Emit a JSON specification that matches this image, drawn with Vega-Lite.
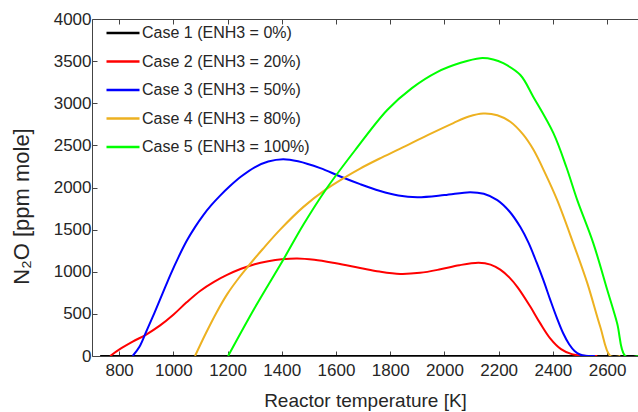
{
  "$schema": "https://vega.github.io/schema/vega-lite/v6.json",
  "width": 546,
  "height": 337,
  "autosize": {"type": "none"},
  "padding": {"left": 92, "top": 19, "right": 0, "bottom": 56},
  "background": "white",
  "config": {
    "view": {"stroke": null},
    "font": "Liberation Sans",
    "axis": {"grid": false, "domainColor": "#444", "tickColor": "#444", "labelColor": "#262626", "titleColor": "#262626", "labelFont": "Liberation Sans", "titleFont": "Liberation Sans", "titleFontWeight": "normal", "labelFontSize": 17, "titleFontSize": 19, "domainWidth": 1, "tickWidth": 1},
    "legend": {"labelFont": "Liberation Sans", "labelFontSize": 16, "labelColor": "#262626"}
  },
  "data": {"values": [
    {"c": "Case 1 (ENH3 = 0%)", "T": 730, "v": 0},
    {"c": "Case 1 (ENH3 = 0%)", "T": 2714, "v": 0},

    {"c": "Case 2 (ENH3 = 20%)", "T": 767, "v": 0},
    {"c": "Case 2 (ENH3 = 20%)", "T": 800, "v": 75},
    {"c": "Case 2 (ENH3 = 20%)", "T": 850, "v": 170},
    {"c": "Case 2 (ENH3 = 20%)", "T": 900, "v": 255},
    {"c": "Case 2 (ENH3 = 20%)", "T": 950, "v": 360},
    {"c": "Case 2 (ENH3 = 20%)", "T": 1000, "v": 490},
    {"c": "Case 2 (ENH3 = 20%)", "T": 1050, "v": 640},
    {"c": "Case 2 (ENH3 = 20%)", "T": 1100, "v": 775},
    {"c": "Case 2 (ENH3 = 20%)", "T": 1150, "v": 880},
    {"c": "Case 2 (ENH3 = 20%)", "T": 1200, "v": 965},
    {"c": "Case 2 (ENH3 = 20%)", "T": 1250, "v": 1035},
    {"c": "Case 2 (ENH3 = 20%)", "T": 1300, "v": 1090},
    {"c": "Case 2 (ENH3 = 20%)", "T": 1350, "v": 1125},
    {"c": "Case 2 (ENH3 = 20%)", "T": 1400, "v": 1148},
    {"c": "Case 2 (ENH3 = 20%)", "T": 1457, "v": 1158},
    {"c": "Case 2 (ENH3 = 20%)", "T": 1520, "v": 1142},
    {"c": "Case 2 (ENH3 = 20%)", "T": 1600, "v": 1100},
    {"c": "Case 2 (ENH3 = 20%)", "T": 1689, "v": 1045},
    {"c": "Case 2 (ENH3 = 20%)", "T": 1760, "v": 1002},
    {"c": "Case 2 (ENH3 = 20%)", "T": 1837, "v": 974},
    {"c": "Case 2 (ENH3 = 20%)", "T": 1910, "v": 987},
    {"c": "Case 2 (ENH3 = 20%)", "T": 1985, "v": 1029},
    {"c": "Case 2 (ENH3 = 20%)", "T": 2055, "v": 1078},
    {"c": "Case 2 (ENH3 = 20%)", "T": 2126, "v": 1106},
    {"c": "Case 2 (ENH3 = 20%)", "T": 2170, "v": 1085},
    {"c": "Case 2 (ENH3 = 20%)", "T": 2206, "v": 1025},
    {"c": "Case 2 (ENH3 = 20%)", "T": 2240, "v": 930},
    {"c": "Case 2 (ENH3 = 20%)", "T": 2270, "v": 815},
    {"c": "Case 2 (ENH3 = 20%)", "T": 2316, "v": 590},
    {"c": "Case 2 (ENH3 = 20%)", "T": 2353, "v": 390},
    {"c": "Case 2 (ENH3 = 20%)", "T": 2390, "v": 210},
    {"c": "Case 2 (ENH3 = 20%)", "T": 2430, "v": 82},
    {"c": "Case 2 (ENH3 = 20%)", "T": 2470, "v": 22},
    {"c": "Case 2 (ENH3 = 20%)", "T": 2510, "v": 3},
    {"c": "Case 2 (ENH3 = 20%)", "T": 2564, "v": 0},

    {"c": "Case 3 (ENH3 = 50%)", "T": 850, "v": 0},
    {"c": "Case 3 (ENH3 = 50%)", "T": 875, "v": 110},
    {"c": "Case 3 (ENH3 = 50%)", "T": 900, "v": 290},
    {"c": "Case 3 (ENH3 = 50%)", "T": 930, "v": 510},
    {"c": "Case 3 (ENH3 = 50%)", "T": 960, "v": 740},
    {"c": "Case 3 (ENH3 = 50%)", "T": 990, "v": 970},
    {"c": "Case 3 (ENH3 = 50%)", "T": 1020, "v": 1180},
    {"c": "Case 3 (ENH3 = 50%)", "T": 1050, "v": 1370},
    {"c": "Case 3 (ENH3 = 50%)", "T": 1080, "v": 1530},
    {"c": "Case 3 (ENH3 = 50%)", "T": 1110, "v": 1670},
    {"c": "Case 3 (ENH3 = 50%)", "T": 1140, "v": 1790},
    {"c": "Case 3 (ENH3 = 50%)", "T": 1170, "v": 1895},
    {"c": "Case 3 (ENH3 = 50%)", "T": 1210, "v": 2020},
    {"c": "Case 3 (ENH3 = 50%)", "T": 1250, "v": 2130},
    {"c": "Case 3 (ENH3 = 50%)", "T": 1300, "v": 2240},
    {"c": "Case 3 (ENH3 = 50%)", "T": 1350, "v": 2308},
    {"c": "Case 3 (ENH3 = 50%)", "T": 1405, "v": 2336},
    {"c": "Case 3 (ENH3 = 50%)", "T": 1460, "v": 2312},
    {"c": "Case 3 (ENH3 = 50%)", "T": 1542, "v": 2230},
    {"c": "Case 3 (ENH3 = 50%)", "T": 1616, "v": 2130},
    {"c": "Case 3 (ENH3 = 50%)", "T": 1689, "v": 2040},
    {"c": "Case 3 (ENH3 = 50%)", "T": 1760, "v": 1962},
    {"c": "Case 3 (ENH3 = 50%)", "T": 1830, "v": 1905},
    {"c": "Case 3 (ENH3 = 50%)", "T": 1900, "v": 1885},
    {"c": "Case 3 (ENH3 = 50%)", "T": 2000, "v": 1910},
    {"c": "Case 3 (ENH3 = 50%)", "T": 2095, "v": 1945},
    {"c": "Case 3 (ENH3 = 50%)", "T": 2145, "v": 1925},
    {"c": "Case 3 (ENH3 = 50%)", "T": 2195, "v": 1850},
    {"c": "Case 3 (ENH3 = 50%)", "T": 2240, "v": 1715},
    {"c": "Case 3 (ENH3 = 50%)", "T": 2280, "v": 1530},
    {"c": "Case 3 (ENH3 = 50%)", "T": 2310, "v": 1345},
    {"c": "Case 3 (ENH3 = 50%)", "T": 2340, "v": 1110},
    {"c": "Case 3 (ENH3 = 50%)", "T": 2365, "v": 900},
    {"c": "Case 3 (ENH3 = 50%)", "T": 2390, "v": 670},
    {"c": "Case 3 (ENH3 = 50%)", "T": 2415, "v": 450},
    {"c": "Case 3 (ENH3 = 50%)", "T": 2438, "v": 270},
    {"c": "Case 3 (ENH3 = 50%)", "T": 2460, "v": 140},
    {"c": "Case 3 (ENH3 = 50%)", "T": 2480, "v": 60},
    {"c": "Case 3 (ENH3 = 50%)", "T": 2500, "v": 18},
    {"c": "Case 3 (ENH3 = 50%)", "T": 2520, "v": 3},
    {"c": "Case 3 (ENH3 = 50%)", "T": 2555, "v": 0},

    {"c": "Case 4 (ENH3 = 80%)", "T": 1080, "v": 0},
    {"c": "Case 4 (ENH3 = 80%)", "T": 1120, "v": 270},
    {"c": "Case 4 (ENH3 = 80%)", "T": 1160, "v": 520},
    {"c": "Case 4 (ENH3 = 80%)", "T": 1200, "v": 740},
    {"c": "Case 4 (ENH3 = 80%)", "T": 1240, "v": 920},
    {"c": "Case 4 (ENH3 = 80%)", "T": 1280, "v": 1080},
    {"c": "Case 4 (ENH3 = 80%)", "T": 1330, "v": 1270},
    {"c": "Case 4 (ENH3 = 80%)", "T": 1394, "v": 1500},
    {"c": "Case 4 (ENH3 = 80%)", "T": 1480, "v": 1770},
    {"c": "Case 4 (ENH3 = 80%)", "T": 1564, "v": 1980},
    {"c": "Case 4 (ENH3 = 80%)", "T": 1630, "v": 2115},
    {"c": "Case 4 (ENH3 = 80%)", "T": 1689, "v": 2225},
    {"c": "Case 4 (ENH3 = 80%)", "T": 1770, "v": 2358},
    {"c": "Case 4 (ENH3 = 80%)", "T": 1848, "v": 2480},
    {"c": "Case 4 (ENH3 = 80%)", "T": 1940, "v": 2625},
    {"c": "Case 4 (ENH3 = 80%)", "T": 2033, "v": 2765},
    {"c": "Case 4 (ENH3 = 80%)", "T": 2090, "v": 2842},
    {"c": "Case 4 (ENH3 = 80%)", "T": 2143, "v": 2878},
    {"c": "Case 4 (ENH3 = 80%)", "T": 2195, "v": 2858},
    {"c": "Case 4 (ENH3 = 80%)", "T": 2243, "v": 2780},
    {"c": "Case 4 (ENH3 = 80%)", "T": 2290, "v": 2630},
    {"c": "Case 4 (ENH3 = 80%)", "T": 2328, "v": 2450},
    {"c": "Case 4 (ENH3 = 80%)", "T": 2370, "v": 2180},
    {"c": "Case 4 (ENH3 = 80%)", "T": 2416, "v": 1850},
    {"c": "Case 4 (ENH3 = 80%)", "T": 2475, "v": 1340},
    {"c": "Case 4 (ENH3 = 80%)", "T": 2527, "v": 865},
    {"c": "Case 4 (ENH3 = 80%)", "T": 2575, "v": 345},
    {"c": "Case 4 (ENH3 = 80%)", "T": 2612, "v": 0},
    {"c": "Case 4 (ENH3 = 80%)", "T": 2649, "v": 0},

    {"c": "Case 5 (ENH3 = 100%)", "T": 1202, "v": 0},
    {"c": "Case 5 (ENH3 = 100%)", "T": 1300, "v": 570},
    {"c": "Case 5 (ENH3 = 100%)", "T": 1405, "v": 1140},
    {"c": "Case 5 (ENH3 = 100%)", "T": 1480, "v": 1560},
    {"c": "Case 5 (ENH3 = 100%)", "T": 1564, "v": 1982},
    {"c": "Case 5 (ENH3 = 100%)", "T": 1671, "v": 2445},
    {"c": "Case 5 (ENH3 = 100%)", "T": 1789, "v": 2920},
    {"c": "Case 5 (ENH3 = 100%)", "T": 1880, "v": 3180},
    {"c": "Case 5 (ENH3 = 100%)", "T": 1973, "v": 3370},
    {"c": "Case 5 (ENH3 = 100%)", "T": 2060, "v": 3480},
    {"c": "Case 5 (ENH3 = 100%)", "T": 2132, "v": 3535},
    {"c": "Case 5 (ENH3 = 100%)", "T": 2180, "v": 3520},
    {"c": "Case 5 (ENH3 = 100%)", "T": 2217, "v": 3475},
    {"c": "Case 5 (ENH3 = 100%)", "T": 2280, "v": 3335},
    {"c": "Case 5 (ENH3 = 100%)", "T": 2328, "v": 3075},
    {"c": "Case 5 (ENH3 = 100%)", "T": 2402, "v": 2645},
    {"c": "Case 5 (ENH3 = 100%)", "T": 2450, "v": 2240},
    {"c": "Case 5 (ENH3 = 100%)", "T": 2490, "v": 1850},
    {"c": "Case 5 (ENH3 = 100%)", "T": 2549, "v": 1340},
    {"c": "Case 5 (ENH3 = 100%)", "T": 2601, "v": 780},
    {"c": "Case 5 (ENH3 = 100%)", "T": 2637, "v": 390},
    {"c": "Case 5 (ENH3 = 100%)", "T": 2667, "v": 0},
    {"c": "Case 5 (ENH3 = 100%)", "T": 2714, "v": 0}
  ]},
  "layer": [
    {
      "mark": {"type": "line", "strokeWidth": 2, "interpolate": "catmull-rom", "clip": true},
      "encoding": {
        "x": {"field": "T", "type": "quantitative", "scale": {"domain": [700, 2714], "nice": false, "zero": false},
              "axis": {"orient": "bottom", "values": [800, 1000, 1200, 1400, 1600, 1800, 2000, 2200, 2400, 2600], "format": "d", "title": "Reactor temperature [K]", "tickSize": -5, "labelPadding": 11, "titleY": 44, "titleBaseline": "middle"}},
        "y": {"field": "v", "type": "quantitative", "scale": {"domain": [0, 4000], "nice": false},
              "axis": {"values": [0, 500, 1000, 1500, 2000, 2500, 3000, 3500, 4000], "format": "d", "title": "N₂O [ppm mole]", "tickSize": -5, "labelPadding": 6, "titleFontSize": 22, "titleX": -71, "titleY": 187, "titleBaseline": "middle", "titleAlign": "center", "titleAngle": -90}},
        "color": {"field": "c", "type": "nominal",
                  "scale": {"domain": ["Case 1 (ENH3 = 0%)", "Case 2 (ENH3 = 20%)", "Case 3 (ENH3 = 50%)", "Case 4 (ENH3 = 80%)", "Case 5 (ENH3 = 100%)"],
                            "range": ["#000000", "#ff0000", "#0000ff", "#edb120", "#00ff00"]},
                  "legend": {"title": null, "orient": "none", "legendX": 13, "legendY": -4, "padding": 0, "symbolType": "stroke", "symbolSize": 1089, "symbolStrokeWidth": 2.5, "rowPadding": 2.5, "labelOffset": 1, "labelLimit": 0}}
      }
    },
    {
      "mark": {"type": "point", "opacity": 0},
      "encoding": {
        "x": {"field": "T", "type": "quantitative", "scale": {"domain": [700, 2714], "nice": false, "zero": false},
              "axis": {"orient": "top", "values": [800, 1000, 1200, 1400, 1600, 1800, 2000, 2200, 2400, 2600], "labels": false, "title": null, "tickSize": -5}}
      }
    }
  ],
  "resolve": {"axis": {"x": "independent"}}
}
